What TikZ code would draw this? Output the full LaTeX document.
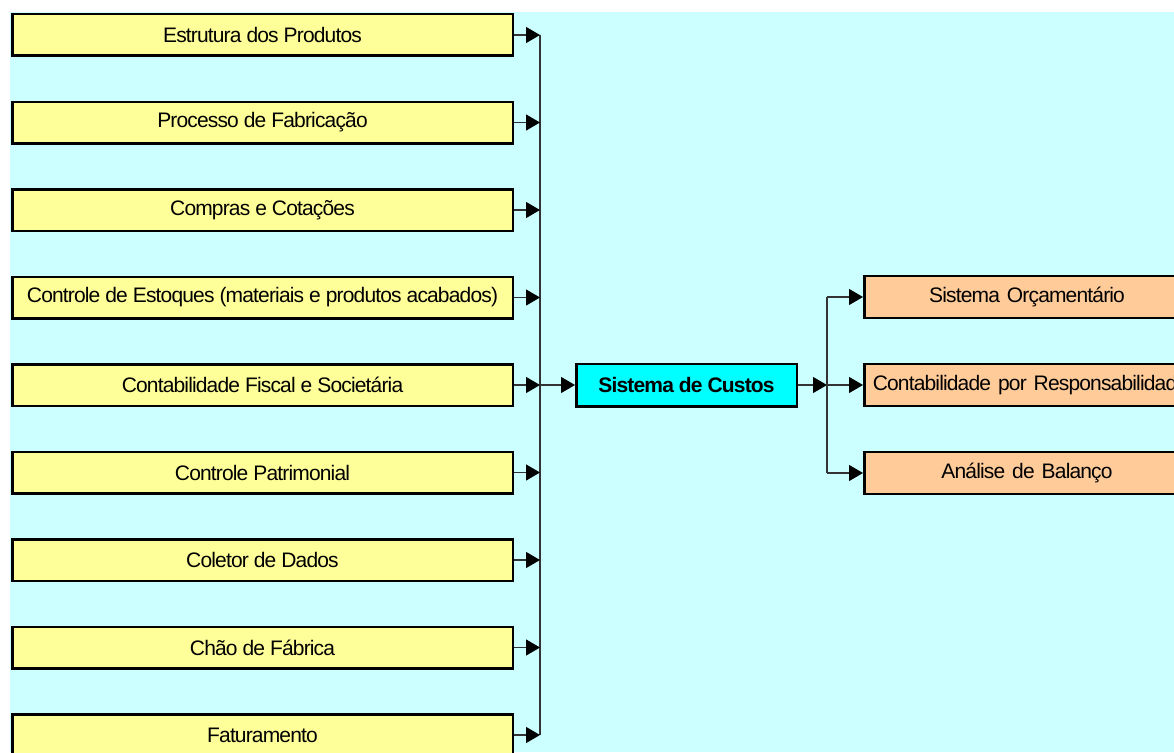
\documentclass[tikz,border=0pt]{standalone}
\usepackage{fontspec}
\setmainfont{Liberation Sans}[LetterSpace=-4]
\usepackage{tikz}
\usetikzlibrary{arrows.meta,positioning}
\definecolor{sheetcyan}{HTML}{CCFFFF}
\definecolor{feedyellow}{HTML}{FFFF99}
\definecolor{corecyan}{HTML}{00FFFF}
\definecolor{outorange}{HTML}{FFCC99}
\definecolor{linegray}{HTML}{333333}
\tikzset{
  source/.style={rectangle,draw=black,line width=2.5pt,fill=feedyellow,
    align=center,minimum width=500.5pt,minimum height=41.5pt},
  core/.style={rectangle,draw=black,line width=2.5pt,fill=corecyan,
    align=center,minimum width=220.5pt,minimum height=42.5pt,
    font=\fontsize{21pt}{25pt}\selectfont\bfseries},
  report/.style={rectangle,draw=black,line width=2.5pt,fill=outorange,
    align=center,text width=308.5pt,inner xsep=8.5pt,minimum height=42pt},
  flow/.style={-{Triangle[length=14pt,width=16pt,color=black]},line width=1.3pt,draw=linegray},
  bus/.style={line width=1.3pt,draw=linegray}
}

\begin{document}
\begin{tikzpicture}[node distance=43.5pt and 61pt,font=\fontsize{21pt}{25pt}\selectfont]
  \useasboundingbox (0,0) rectangle (1174pt,-752pt);
  \fill[sheetcyan] (10pt,-12pt) rectangle (1174pt,-752pt);
  % inputs
  \node[source] (estrutura) at (262.5pt,-35pt) {Estrutura dos Produtos};
  \node[source,below=of estrutura] (processo) {Processo de Fabricação};
  \node[source,below=of processo] (compras) {Compras e Cotações};
  \node[source,below=of compras] (estoques) {Controle de Estoques (materiais e produtos acabados)};
  \node[source,below=of estoques] (fiscal) {Contabilidade Fiscal e Societária};
  \node[source,below=of fiscal] (patrimonial) {Controle Patrimonial};
  \node[source,below=of patrimonial] (coletor) {Coletor de Dados};
  \node[source,below=of coletor] (chao) {Chão de Fábrica};
  \node[source,below=of chao] (faturamento) {Faturamento};
  % core and outputs
  \node[core,right=of fiscal] (custos) {Sistema de Custos};
  \node[report,right=65pt of custos] (responsab) {\mbox{Contabilidade por Responsabilidades}};
  \node[report,above=of responsab] (orcamento) {Sistema Orçamentário};
  \node[report,below=of responsab] (balanco) {Análise de Balanço};
  \coordinate[right=26pt of estrutura] (busin);
  \coordinate[right=29pt of custos] (busout);
  % connectors
  \draw[bus] (busin) -- (busin |- faturamento);
  \draw[flow] (estrutura) -- (estrutura -| busin);
  \draw[flow] (processo) -- (processo -| busin);
  \draw[flow] (compras) -- (compras -| busin);
  \draw[flow] (estoques) -- (estoques -| busin);
  \draw[flow] (fiscal) -- (fiscal -| busin);
  \draw[flow] (patrimonial) -- (patrimonial -| busin);
  \draw[flow] (coletor) -- (coletor -| busin);
  \draw[flow] (chao) -- (chao -| busin);
  \draw[flow] (faturamento) -- (faturamento -| busin);
  \draw[flow] (custos -| busin) -- (custos);
  \draw[flow] (custos) -- (custos -| busout);
  \draw[bus] (busout |- orcamento) -- (busout |- balanco);
  \draw[flow] (orcamento -| busout) -- (orcamento);
  \draw[flow] (responsab -| busout) -- (responsab);
  \draw[flow] (balanco -| busout) -- (balanco);
\end{tikzpicture}
\end{document}
